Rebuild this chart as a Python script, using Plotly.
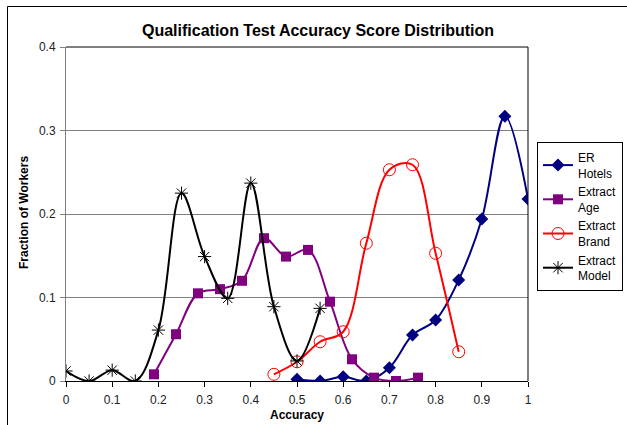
import plotly.graph_objects as go

# ---- data ----
er_hotels_x = [0.5, 0.55, 0.6, 0.65, 0.7, 0.75, 0.8, 0.85, 0.9, 0.95, 1.0]
er_hotels_y = [0.002, 0.0, 0.005, 0.0, 0.016, 0.055, 0.073, 0.121, 0.194, 0.317, 0.218]

age_x = [4/21, 5/21, 6/21, 7/21, 8/21, 9/21, 10/21, 11/21, 12/21, 13/21, 14/21, 15/21, 16/21]
age_y = [0.008, 0.056, 0.105, 0.110, 0.120, 0.171, 0.149, 0.157, 0.095, 0.026, 0.004, 0.0, 0.004]

brand_x = [0.45, 0.5, 0.55, 0.6, 0.65, 0.7, 0.75, 0.8, 0.85]
brand_y = [0.008, 0.023, 0.047, 0.059, 0.165, 0.253, 0.259, 0.153, 0.035]

model_x = [0.0, 0.05, 0.1, 0.15, 0.2, 0.25, 0.3, 0.35, 0.4, 0.45, 0.5, 0.55]
model_y = [0.012, 0.0, 0.013, 0.0, 0.061, 0.225, 0.149, 0.099, 0.237, 0.089, 0.024, 0.087]

series_names = ["ER<br>Hotels", "Extract<br>Age", "Extract<br>Brand", "Extract<br>Model"]
x_ticks = [0, 0.1, 0.2, 0.3, 0.4, 0.5, 0.6, 0.7, 0.8, 0.9, 1]
y_ticks = [0, 0.1, 0.2, 0.3, 0.4]

fig = go.Figure()
fig.add_trace(go.Scatter(x=er_hotels_x, y=er_hotels_y, name=series_names[0], mode="lines+markers",
                         line=dict(color="#000080", width=2, shape="spline"),
                         marker=dict(symbol="diamond", size=10, color="#000080")))
fig.add_trace(go.Scatter(x=age_x, y=age_y, name=series_names[1], mode="lines+markers",
                         line=dict(color="#800080", width=2, shape="spline"),
                         marker=dict(symbol="square", size=10, color="#800080")))
fig.add_trace(go.Scatter(x=brand_x, y=brand_y, name=series_names[2], mode="lines+markers",
                         line=dict(color="#FF0000", width=2, shape="spline"),
                         marker=dict(symbol="circle-open", size=12, color="#FF0000", line=dict(width=1))))
fig.add_trace(go.Scatter(x=model_x, y=model_y, name=series_names[3], mode="lines+markers",
                         line=dict(color="#000000", width=2, shape="spline"),
                         marker=dict(symbol="asterisk-open", size=11, color="#000000", line=dict(width=1, color="#000000"))))

W, H = 627, 425
L, R, T, B = 66, 528, 47, 381       # plot-area pixel box
PW = W - L                           # paper width (right margin 0)
XD = (R - L) / PW                    # x-axis domain end

def px(x):
    return (x - L) / PW

def py(y):
    return (B - y) / (B - T)

font = "Arial, Liberation Sans, sans-serif"

fig.update_layout(
    width=W, height=H,
    margin=dict(l=L, r=0, t=T, b=H - B, pad=0, autoexpand=False),
    paper_bgcolor="white", plot_bgcolor="white",
    font=dict(family=font, size=12, color="#000000"),
    showlegend=True,
    legend=dict(x=px(537), y=py(142), xanchor="left", yanchor="top",
                bordercolor="#000000", borderwidth=1, bgcolor="white",
                font=dict(family=font, size=12, color="#000000"),
                itemwidth=30, tracegroupgap=4),
    xaxis=dict(domain=[0, XD], range=[0, 1], tickvals=x_ticks, ticktext=[("%g" % v) for v in x_ticks],
               showgrid=False, zeroline=False, showline=True, linecolor="#000000", linewidth=1,
               ticks="outside", ticklen=5, tickcolor="#000000", ticklabelstandoff=3,
               tickfont=dict(family=font, size=12, color="#222222"), mirror=False),
    yaxis=dict(range=[0, 0.4], tickvals=y_ticks, ticktext=[("%g" % v) for v in y_ticks],
               showgrid=True, gridcolor="#808080", gridwidth=1, zeroline=False,
               showline=True, linecolor="#808080", linewidth=1,
               ticks="outside", ticklen=5, tickcolor="#808080", ticklabelstandoff=2,
               tickfont=dict(family=font, size=12, color="#222222")),
    annotations=[
        dict(text="<b>Qualification Test Accuracy Score Distribution</b>", x=px(318), y=py(30),
             xanchor="center", yanchor="middle",
             xref="paper", yref="paper", showarrow=False, font=dict(family=font, size=16, color="#000000")),
        dict(text="<b>Accuracy</b>", x=px(297), y=py(415), xref="paper", yref="paper",
             xanchor="center", yanchor="middle",
             showarrow=False, font=dict(family=font, size=12, color="#000000")),
        dict(text="<b>Fraction of Workers</b>", x=px(24), y=py(213), xref="paper", yref="paper",
             xanchor="center", yanchor="middle",
             showarrow=False, textangle=-90, font=dict(family=font, size=12, color="#000000")),
    ],
    shapes=[
        # plot-area frame (top and right)
        dict(type="line", xref="paper", yref="paper", x0=0, x1=XD, y0=1, y1=1, line=dict(color="#000000", width=1)),
        dict(type="line", xref="paper", yref="paper", x0=XD, x1=XD, y0=0, y1=1, line=dict(color="#000000", width=1)),
        # outer chart border
        dict(type="line", xref="paper", yref="paper", x0=px(7.5), x1=px(7.5), y0=py(430), y1=py(6.5),
             line=dict(color="#000000", width=1)),
        dict(type="line", xref="paper", yref="paper", x0=px(7.5), x1=px(630), y0=py(6.5), y1=py(6.5),
             line=dict(color="#000000", width=1)),
    ],
)

fig.write_html("out.html", config={"displayModeBar": False},
               post_script="document.body.style.margin='0';")
